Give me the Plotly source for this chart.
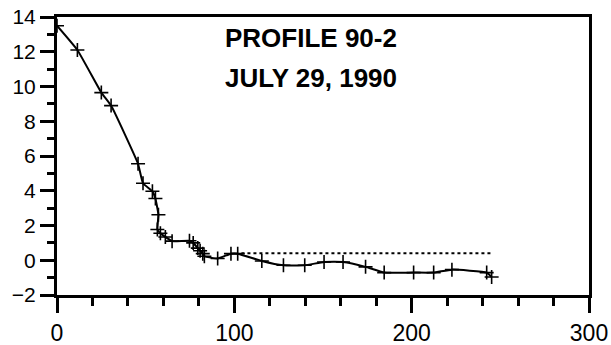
import plotly.graph_objects as go

# Survey profile 90-2: distance along the line vs elevation
distance = [0, 11.5, 25, 30.5, 45.7, 48.5, 53.8, 55.5, 57.2, 56.6, 58.3, 61.1,
            64.9, 74.7, 76.8, 79.4, 80.7, 82.2, 83.1, 90.6, 98.1, 101.9, 115.5,
            127.7, 139.7, 150.6, 161.3, 174, 184.5, 201.1, 212.4, 222.7, 242.3, 245.1]
elevation = [13.5, 12.1, 9.65, 8.9, 5.55, 4.43, 3.97, 3.55, 2.62, 1.77, 1.55, 1.34,
             1.1, 1.12, 1.0, 0.7, 0.55, 0.38, 0.23, 0.1, 0.38, 0.38, -0.04,
             -0.29, -0.29, -0.1, -0.1, -0.38, -0.71, -0.71, -0.71, -0.54, -0.71, -0.96]

# Reference level (dotted)
ref_x = [104, 246]
ref_y = [0.4, 0.4]

title_lines = ["PROFILE 90-2", "JULY 29, 1990"]
title_y = [12.8, 10.5]

fig = go.Figure()
fig.add_trace(go.Scatter(
    x=ref_x, y=ref_y, mode="lines",
    line=dict(color="black", width=2, dash="dot"),
    hoverinfo="skip", showlegend=False))
fig.add_trace(go.Scatter(
    x=distance, y=elevation, mode="lines+markers",
    line=dict(color="black", width=2, shape="spline", smoothing=0.35),
    marker=dict(symbol="cross-thin", size=10, line=dict(color="black", width=1.6)),
    showlegend=False))

for text, ty in zip(title_lines, title_y):
    fig.add_annotation(
        x=143, y=ty, xref="x", yref="y",
        text="<b>" + text + "</b>",
        showarrow=False, align="center",
        font=dict(family="Liberation Sans, Arial", size=26, color="black"))

fig.update_xaxes(
    range=[0, 300], tickvals=[0, 100, 200, 300], ticks="outside",
    ticklen=15, tickwidth=3, tickcolor="black",
    showline=True, linecolor="black", linewidth=3, mirror=True,
    showgrid=False, zeroline=False, automargin=False,
    tickfont=dict(family="Liberation Sans, Arial", size=23, color="black"),
    minor=dict(dtick=20, ticks="outside", ticklen=8, tickwidth=3, tickcolor="black"))
fig.update_yaxes(
    range=[-2, 14], tickvals=list(range(-2, 15, 2)), ticks="outside",
    ticklen=14, tickwidth=3, tickcolor="black",
    showline=True, linecolor="black", linewidth=3, mirror=True,
    showgrid=False, zeroline=False, automargin=False,
    tickfont=dict(family="Liberation Sans, Arial", size=21, color="black"),
    minor=dict(dtick=1, ticks="outside", ticklen=7, tickwidth=3, tickcolor="black"))

fig.update_layout(
    width=611, height=345,
    margin=dict(l=57, r=22, t=17, b=50),
    paper_bgcolor="white", plot_bgcolor="white")

fig.write_html("out.html")
